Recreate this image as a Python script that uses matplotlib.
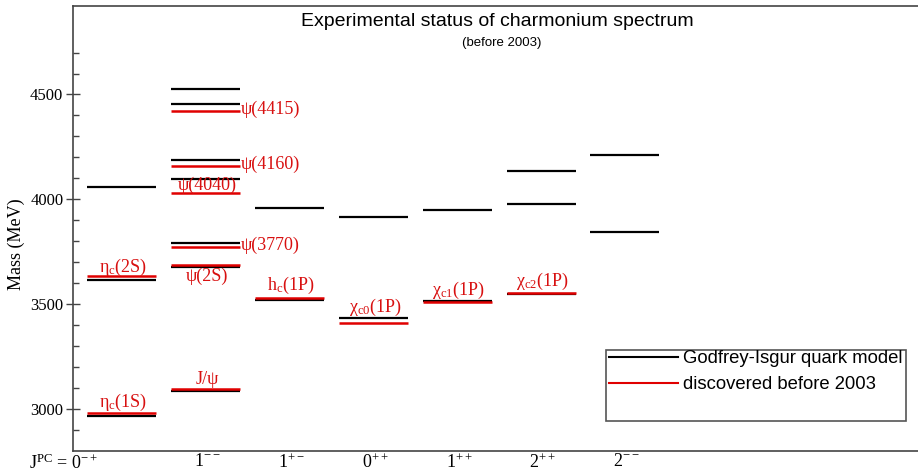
import matplotlib
matplotlib.use("Agg")
import matplotlib.pyplot as plt
from matplotlib.lines import Line2D
from matplotlib.patches import Rectangle
from matplotlib.ticker import FixedLocator

plt.rcParams['mathtext.fontset'] = 'custom'
plt.rcParams['mathtext.rm'] = 'Liberation Serif'
plt.rcParams['mathtext.it'] = 'Liberation Serif:italic'

# J^PC columns
columns = ['J$^{\\mathrm{PC}}$ = 0$^{-+}$', '1$^{--}$', '1$^{+-}$', '0$^{++}$',
           '1$^{++}$', '2$^{++}$', '2$^{--}$']

# Godfrey-Isgur model levels (column index, mass in MeV)
gi_col = [0, 0, 0, 1, 1, 1, 1, 1, 1, 1, 2, 2, 3, 3, 4, 4, 5, 5, 5, 6, 6]
gi_mass = [2968, 3616, 4061, 3087, 3679, 3792, 4099, 4189, 4457, 4524,
           3520, 3961, 3436, 3918, 3515, 3951, 3547, 3980, 4133, 3845, 4212]

# states discovered before 2003
exp_names = ['η$_\\mathrm{c}$(1S)', 'η$_\\mathrm{c}$(2S)', 'J/ψ', 'ψ(2S)', 'ψ(3770)',
             'ψ(4040)', 'ψ(4160)', 'ψ(4415)', 'h$_\\mathrm{c}$(1P)',
             'χ$_\\mathrm{c0}$(1P)', 'χ$_\\mathrm{c1}$(1P)', 'χ$_\\mathrm{c2}$(1P)']
exp_col = [0, 0, 1, 1, 1, 1, 1, 1, 2, 3, 4, 5]
exp_mass = [2979, 3636, 3096, 3688, 3773, 4032, 4161, 4421, 3530, 3412, 3510, 3555]

# label placement: (where, offset in MeV)
label_pos = [('above', 32), ('above', 20), ('above', 22), ('below', 14), ('right', 8),
             ('above', 12), ('right', 8), ('right', 8), ('above', 38),
             ('above', 52), ('above', 34), ('above', 34)]

W, H = 918, 474
fig = plt.figure(figsize=(W / 100, H / 100), dpi=100)
ax = fig.add_axes([73 / W, 23 / H, (W - 73 + 6) / W, (451 - 6) / H])

half = 0.411
for c, m in zip(gi_col, gi_mass):
    ax.plot([c - half, c + half], [m, m], color='black', lw=1.6, solid_capstyle='butt')
for c, m in zip(exp_col, exp_mass):
    ax.plot([c - half, c + half], [m, m], color='#e00000', lw=1.8, solid_capstyle='butt')

red = '#d81010'
for name, c, m, (where, d) in zip(exp_names, exp_col, exp_mass, label_pos):
    if where == 'above':
        ax.text(c + 0.02, m + d, name, color=red, fontsize=13, family='Liberation Serif',
                ha='center', va='baseline')
    elif where == 'below':
        ax.text(c + 0.02, m - d, name, color=red, fontsize=13, family='Liberation Serif',
                ha='center', va='top')
    else:
        ax.text(c + half + 0.01, m + d, name, color=red, fontsize=13,
                family='Liberation Serif', ha='left', va='center')

ax.set_xlim(-0.578, 9.493 + 6 / 83.9)
ax.set_ylim(2800, 4922)

ax.yaxis.set_major_locator(FixedLocator([3000, 3500, 4000, 4500]))
ax.yaxis.set_minor_locator(FixedLocator([m for m in range(2900, 4800, 100) if m % 500]))
ax.tick_params(axis='y', which='major', direction='inout', length=10, width=1,
               labelsize=12, colors='#444444', labelcolor='black', pad=2)
ax.tick_params(axis='y', which='minor', direction='in', length=4, width=1, colors='#444444')
for lab in ax.get_yticklabels():
    lab.set_family('Liberation Serif')
ax.set_xticks([])

for s in ['left', 'bottom', 'top']:
    ax.spines[s].set_color('#444444')
    ax.spines[s].set_linewidth(1.2)
ax.spines['right'].set_visible(False)

# J^PC labels under the axis
for i, lab in enumerate(columns):
    if i == 0:
        ax.text(-0.28, -0.005, lab, transform=ax.get_xaxis_transform(), ha='right',
                va='top', fontsize=13, family='Liberation Serif')
    else:
        ax.text(i + 0.02, -0.005, lab, transform=ax.get_xaxis_transform(), ha='center',
                va='top', fontsize=13, family='Liberation Serif')

fig.text(16 / W, 1 - 244 / H, 'Mass (MeV)', rotation=90, ha='center', va='center',
         fontsize=13, family='Liberation Serif')

fig.text(497 / W, 1 - 21 / H, 'Experimental status of charmonium spectrum',
         ha='center', va='center', fontsize=14, family='Liberation Sans')
fig.text(502 / W, 1 - 43 / H, '(before 2003)', ha='center', va='center',
         fontsize=9.5, family='Liberation Sans')

# legend
handles = [Line2D([], [], color='black', lw=1.5), Line2D([], [], color='#e00000', lw=1.5)]
fig.legend(handles, ['Godfrey-Isgur quark model', 'discovered before 2003'],
           loc='upper left', bbox_to_anchor=(609 / W, 1 - 350 / H), frameon=False,
           borderpad=0, borderaxespad=0, handlelength=3.75, handletextpad=0.27,
           labelspacing=0.5, prop={'family': 'Liberation Sans', 'size': 13.3})
fig.patches.append(Rectangle((606 / W, 1 - 421 / H), 300 / W, 71 / H,
                             transform=fig.transFigure, fill=False,
                             edgecolor='#555555', lw=1.2))

fig.savefig('out.png', dpi=100)
